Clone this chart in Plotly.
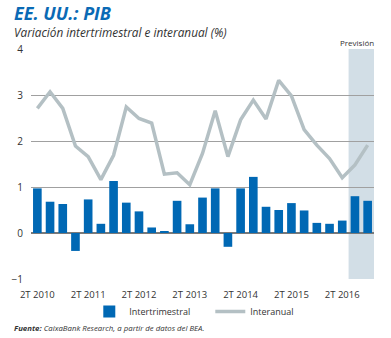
import plotly.graph_objects as go

categories = []
for y in range(2010, 2017):
    for q in range(1, 5):
        if (y == 2010 and q == 1):
            continue
        categories.append(f"{q}T {y}")

intertrimestral = [0.97, 0.68, 0.63, -0.39, 0.73, 0.20, 1.13, 0.66, 0.47, 0.12, 0.03, 0.70,
                   0.19, 0.77, 0.97, -0.30, 0.97, 1.22, 0.57, 0.50, 0.65, 0.49, 0.22, 0.20,
                   0.27, 0.80, 0.70]
interanual = [2.71, 3.07, 2.71, 1.89, 1.66, 1.16, 1.69, 2.74, 2.49, 2.39, 1.28, 1.31,
              1.05, 1.73, 2.66, 1.66, 2.46, 2.89, 2.48, 3.32, 2.98, 2.25, 1.91, 1.62,
              1.20, 1.48, 1.91]
tick_labels = ["2T 2010", "2T 2011", "2T 2012", "2T 2013", "2T 2014", "2T 2015", "2T 2016"]
forecast_start = "3T 2016"
forecast_end = "4T 2016"

FONT = "Open Sans"
W, H = 391, 338
ML, MR, MT, MB = 22, 17, 49, 56
pw = W - ML - MR
ph = H - MT - MB

def px(x):
    return (x - ML) / pw

def py(y):
    return (H - MB - y) / ph

fig = go.Figure()
fig.add_trace(go.Bar(x=categories, y=intertrimestral, name="Intertrimestral",
                     marker=dict(color="#0068b4", line=dict(width=0)), width=0.68))
fig.add_trace(go.Scatter(x=categories, y=interanual, name="Interanual", mode="lines",
                         line=dict(color="#b4c0c4", width=3.5)))

i0 = categories.index(forecast_start)
i1 = categories.index(forecast_end)
fig.add_shape(type="rect", xref="x", yref="y", x0=i0 - 0.5, x1=i1 + 0.5, y0=-1, y1=4.04,
              fillcolor="#d2dee6", line=dict(width=0), layer="below")

fig.update_layout(
    width=W, height=H, margin=dict(l=ML, r=MR, t=MT, b=MB),
    plot_bgcolor="white", paper_bgcolor="white",
    font=dict(family=FONT, size=10, color="#333333"),
    showlegend=True,
    legend=dict(orientation="h", x=px(206), xanchor="center", y=py(315), yanchor="middle",
                bgcolor="rgba(0,0,0,0)",
                font=dict(size=9, color="#333333"), itemwidth=30, entrywidth=76, tracegroupgap=0),
    xaxis=dict(type="category", categoryorder="array", categoryarray=categories,
               tickvals=tick_labels, ticktext=tick_labels, showgrid=False, ticks="",
               ticklabelstandoff=8,
               range=[-0.5, len(categories) - 0.5], showline=False, zeroline=False,
               tickfont=dict(size=9.5, color="#333333")),
    yaxis=dict(range=[-1, 4], dtick=1, showgrid=True, gridcolor="#a0a0a0", gridwidth=1,
               zeroline=True, zerolinecolor="#7a7a7a", zerolinewidth=1.5,
               ticks="", ticklabelstandoff=7, tickfont=dict(size=10, color="#333333")),
)

fig.add_annotation(xref="paper", yref="paper", x=px(3), y=py(13), xanchor="left", yanchor="middle",
                   text="<b><i>EE. UU.: PIB</i></b>", showarrow=False,
                   font=dict(family=FONT, size=18, color="#0a6ab5"))
fig.add_annotation(xref="paper", yref="paper", x=px(3), y=py(32), xanchor="left", yanchor="middle",
                   text="<i>Variación intertrimestral e interanual (%)</i>", showarrow=False,
                   font=dict(family=FONT, size=11.8, color="#333333"))
fig.add_annotation(xref="paper", yref="paper", x=px(357), y=py(42), xanchor="center", yanchor="middle",
                   text="Previsión", showarrow=False,
                   font=dict(family=FONT, size=8, color="#333333"))
fig.add_annotation(xref="paper", yref="paper", x=px(3), y=py(332), xanchor="left", yanchor="middle",
                   text="<b><i>Fuente:</i></b><i> CaixaBank Research, a partir de datos del BEA.</i>",
                   showarrow=False, font=dict(family=FONT, size=7.8, color="#333333"))

fig.write_html("out.html")
